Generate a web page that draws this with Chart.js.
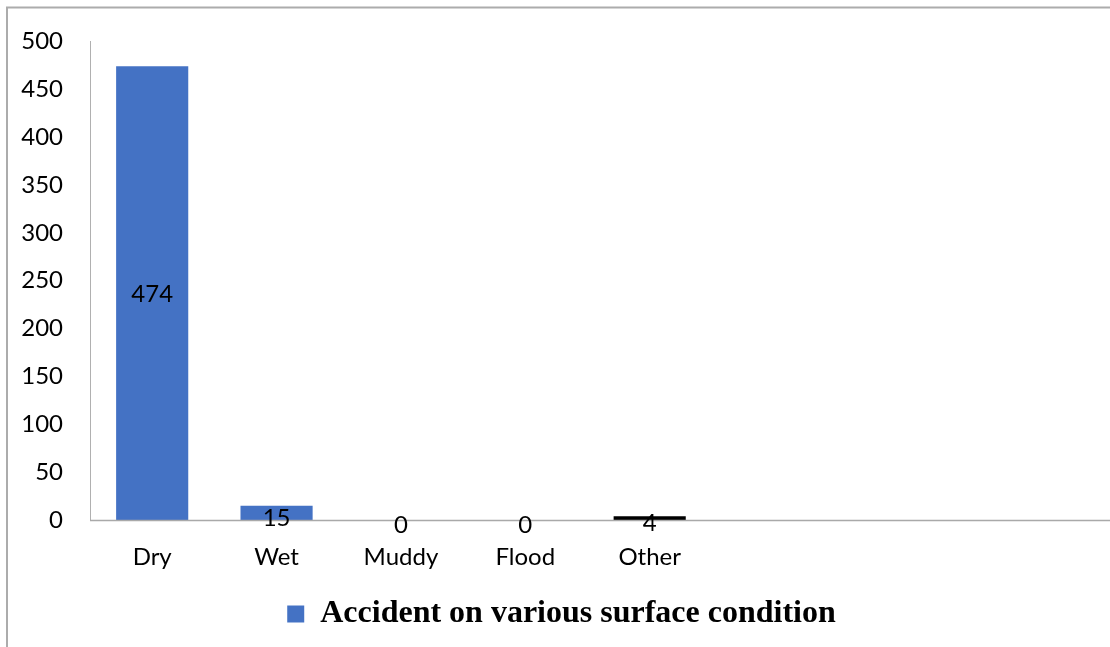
<!DOCTYPE html>
<html>
<head>
<meta charset="utf-8">
<script src="https://cdn.jsdelivr.net/npm/chart.js@4.4.1/dist/chart.umd.min.js"></script>
<style>
  html, body { margin: 0; padding: 0; background: #fff; overflow: hidden; }
  #wrap { width: 1110px; height: 647px; position: relative; }
</style>
</head>
<body>
<div id="wrap"><canvas id="chart" width="1110" height="647"></canvas></div>
<script>
// categories (last three slots are empty, the plot runs past them)
const categories = ["Dry", "Wet", "Muddy", "Flood", "Other", "", "", ""];
const accidents = [474, 15, 0, 0, 4, null, null, null];
const seriesName = "Accident on various surface condition";
const yTicks = { min: 0, max: 500, step: 50 };

const BLUE = "#4472C4";
const barColors = categories.map(c => (c === "Other" ? "#000000" : BLUE));

// outer frame lines + full-width baseline
const framePlugin = {
    id: "frame",
    afterLayout(chart) {
        // legend sits a little right of the plot's centre
        const lg = chart.legend;
        lg.left += 19;
        lg.right += 19;
    },
    beforeDraw(chart) {
        const ctx = chart.ctx;
        ctx.save();
        ctx.strokeStyle = "#acacac";
        ctx.lineWidth = 2;
        ctx.beginPath();
        ctx.moveTo(7, chart.height);
        ctx.lineTo(7, 7.5);
        ctx.lineTo(chart.width, 7.5);
        ctx.stroke();
        ctx.restore();
    },
    afterDatasetsDraw(chart) {
        const ctx = chart.ctx;
        const y0 = Math.round(chart.scales.y.getPixelForValue(0)) + 0.5;
        ctx.save();
        ctx.strokeStyle = "#a9a9a9";
        ctx.lineWidth = 1.5;
        ctx.beginPath();
        ctx.moveTo(chart.chartArea.left, y0);
        ctx.lineTo(chart.width, y0);
        ctx.stroke();
        ctx.restore();
    }
};

// value labels at the middle of each bar
const valueLabels = {
    id: "valueLabels",
    afterDraw(chart) {
        const ctx = chart.ctx;
        const meta = chart.getDatasetMeta(0);
        const yScale = chart.scales.y;
        ctx.save();
        ctx.font = "24px Lato";
        ctx.fillStyle = "#000";
        ctx.textAlign = "center";
        ctx.textBaseline = "middle";
        meta.data.forEach((bar, i) => {
            const v = accidents[i];
            if (v === null) return;
            const off = v < 50 ? 5 : 1;
            ctx.fillText(String(v), bar.x, yScale.getPixelForValue(v / 2) + off);
        });
        ctx.restore();
    }
};

new Chart(document.getElementById("chart"), {
    type: "bar",
    data: {
        labels: categories,
        datasets: [{
            label: seriesName,
            data: accidents,
            backgroundColor: barColors,
            categoryPercentage: 1,
            barPercentage: 0.58
        }]
    },
    options: {
        responsive: false,
        animation: false,
        layout: { padding: { top: 40, right: 25, bottom: 7, left: 0 } },
        plugins: {
            tooltip: { enabled: false },
            legend: {
                position: "bottom",
                labels: {
                    boxWidth: 17,
                    boxHeight: 17,
                    padding: 10,
                    color: "#000",
                    font: { family: "Liberation Serif", size: 32, weight: "bold" },
                    generateLabels: () => [{
                        text: seriesName, fillStyle: BLUE, strokeStyle: BLUE, lineWidth: 0, hidden: false
                    }]
                }
            }
        },
        scales: {
            x: {
                grid: { display: false, drawTicks: false },
                border: { display: false },
                ticks: { color: "#000", font: { family: "Lato", size: 24 }, padding: 23, maxRotation: 0 },
                afterFit: s => { s.height = 68; }
            },
            y: {
                min: yTicks.min,
                max: yTicks.max,
                grid: { display: false, drawTicks: false },
                border: { display: true, color: "#b0b0b0", width: 1 },
                ticks: { stepSize: yTicks.step, color: "#000", font: { family: "Lato", size: 24 }, padding: 27 },
                afterFit: s => { s.width = 90; }
            }
        }
    },
    plugins: [framePlugin, valueLabels]
});
</script>
</body>
</html>
